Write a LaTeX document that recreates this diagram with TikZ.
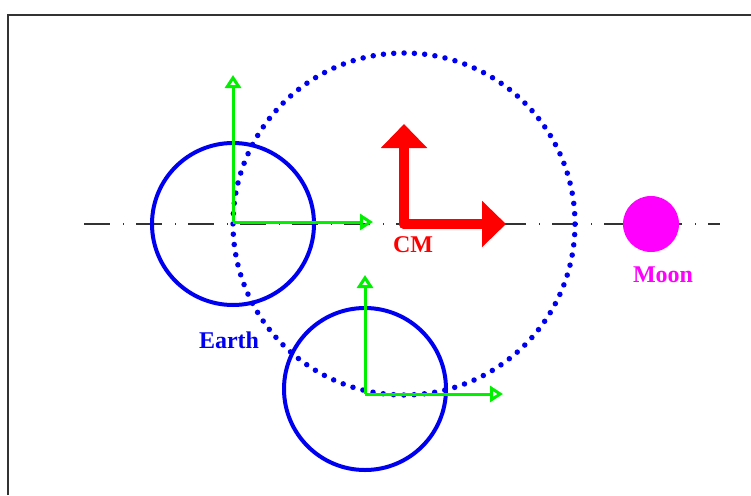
\documentclass[tikz,border=0pt]{standalone}
\usepackage{fontspec}
\setmainfont{Liberation Serif}
\usetikzlibrary{arrows.meta}
\definecolor{eblue}{RGB}{0,0,240}
\definecolor{egreen}{RGB}{0,240,0}
\definecolor{ered}{RGB}{255,0,0}
\definecolor{emag}{RGB}{255,0,255}
\tikzset{
  lbl/.style={font=\fontsize{24}{28}\selectfont\bfseries, inner sep=0pt},
  earthcirc/.style={draw=eblue, line width=4pt, circle, minimum size=162pt, inner sep=0pt},
  gaxis/.style={draw=egreen, line width=3pt, -{Triangle[open, width=16pt, length=13pt, line width=3pt]}},
  raxis/.style={draw=ered, line width=10pt, line cap=round, -{Triangle[width=45pt, length=24pt]}},
  axisline/.style={draw=black!80, line width=1.4pt, dash pattern=on 26pt off 13pt on 1pt off 12pt},
}
\begin{document}
\begin{tikzpicture}[x=1pt, y=-1pt]
\useasboundingbox (0,0) rectangle (751,495);
% frame
\draw[black!80, line width=1.5pt] (8,495) -- (8,15) -- (751,15);
% axis line
\coordinate (axL) at (84,224);
\coordinate (axR) at (720,224);
\draw[axisline] (axL) -- (axR);
% orbit (dotted)
\coordinate (cm) at (404,224);
\draw[eblue, line width=5.5pt, line cap=round, dash pattern=on 0pt off 10.33pt] (cm) circle[radius=171pt];
% Earth 1
\node[earthcirc] (earth1) at (233,224) {};
\coordinate (o1) at (233,222);
\coordinate (o1x) at (373,222);
\coordinate (o1y) at (233,75);
\draw[gaxis] (o1) -- (o1x);
\draw[gaxis] (o1) -- (o1y);
% Earth 2
\node[earthcirc] (earth2) at (365,389) {};
\coordinate (o2) at (365,394);
\coordinate (o2x) at (503,394);
\coordinate (o2y) at (365,275);
\draw[gaxis] (o2) -- (o2x);
\draw[gaxis] (o2) -- (o2y);
% CM axes
\coordinate (cmx) at (506,224);
\coordinate (cmy) at (404,124);
\draw[raxis] (cm) -- (cmx);
\draw[raxis] (cm) -- (cmy);
% Moon
\node[circle, fill=emag, minimum size=56pt, inner sep=0pt] (moon) at (651,224) {};
% labels
\node[lbl, text=ered] (cmlabel) at (413,245) {CM};
\node[lbl, text=emag] (moonlabel) at (663,275) {Moon};
\node[lbl, text=eblue] (earthlabel) at (229,340) {Earth};
\end{tikzpicture}
\end{document}
